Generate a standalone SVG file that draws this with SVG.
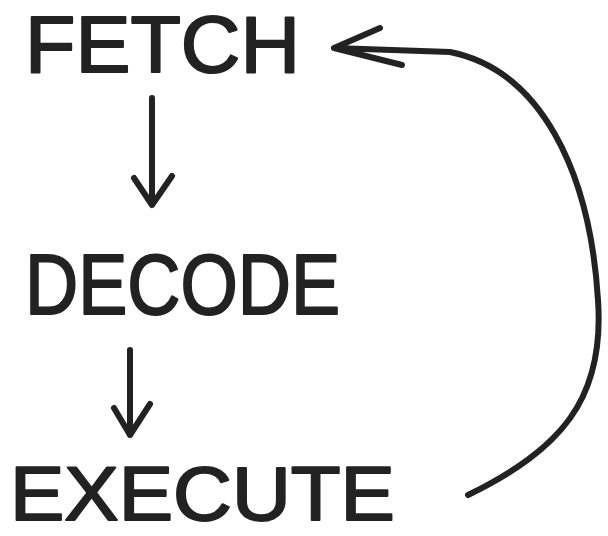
<svg xmlns="http://www.w3.org/2000/svg" width="608" height="536" viewBox="0 0 608 536">
<style>
.lbl{font-family:"Liberation Sans",Arial,sans-serif;font-weight:normal;fill:#222;stroke:#222;stroke-width:2;stroke-linejoin:round}
.ln{fill:none;stroke:#222;stroke-width:6;stroke-linecap:round;stroke-linejoin:round}
</style>
<rect width="608" height="536" fill="#fff"/>
<g id="fetch"><text class="lbl" x="25" y="72" font-size="80" textLength="275" lengthAdjust="spacingAndGlyphs">FETCH</text></g>
<g id="decode"><text class="lbl" x="25" y="314" font-size="86" textLength="315" lengthAdjust="spacingAndGlyphs">DECODE</text></g>
<g id="execute"><text class="lbl" x="10" y="520" font-size="76" textLength="385" lengthAdjust="spacingAndGlyphs">EXECUTE</text></g>
<g id="connectors">
<path class="ln" d="M152 98 L152 205 M134 178 L152 205 L172 176"/>
<path class="ln" d="M130 350 L130 435 M114 408 L130 435 L150 404"/>
<path class="ln" d="M468 495 C560 450 605 400 598 300 C590 170 540 70 450 52 L334 48 M380 28 L334 48 L402 65"/>
</g>
</svg>
